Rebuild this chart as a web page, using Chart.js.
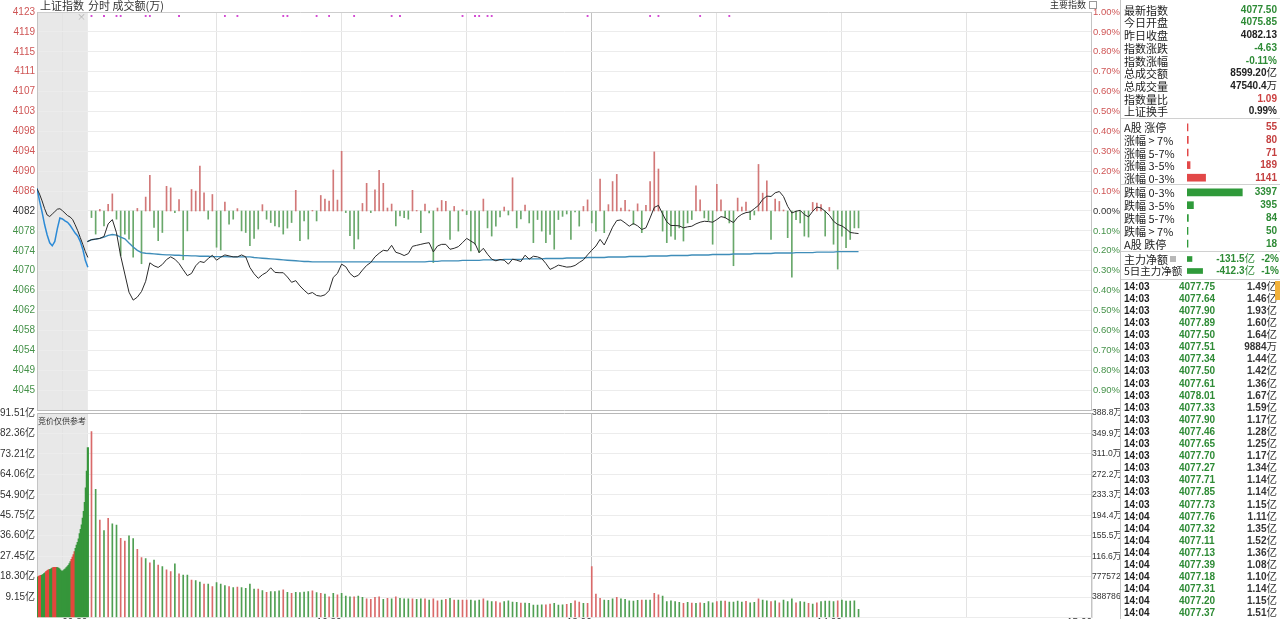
<!DOCTYPE html>
<html>
<head>
<meta charset="utf-8">
<script src="https://cdn.jsdelivr.net/npm/chart.js@4/dist/chart.umd.min.js"></script>
<style>
  html, body { margin:0; padding:0; background:#fff; }
  body { width:1280px; height:619px; overflow:hidden; position:relative; font-family:"Noto Sans CJK SC","Liberation Sans",sans-serif; }
  canvas { position:absolute; }
  .t { position:absolute; white-space:nowrap; height:14px; line-height:14px; }
  .n { font-family:"Liberation Sans",Arial,sans-serif; font-weight:bold; font-size:10px; }
  .u { font-family:"Noto Sans CJK SC",sans-serif; font-weight:normal; font-size:10.5px; line-height:10px; }
</style>
</head>
<body>
<canvas id="top" width="1120" height="414" style="left:0;top:0"></canvas>
<canvas id="bot" width="1120" height="240" style="left:0;top:403px"></canvas>
<script>
// ---------------- data ----------------
const PREV_CLOSE = 4082.13;
const VOL_MAX = 91.51;

// minute price line, 09:30 .. 14:05 (index 0 = 09:30)
const priceLine = [
4075.85,4076.24,4076.37,4076.51,4076.91,4079.49,4080.37,4077.66,4072.92,4069.20,
4065.47,4063.85,4064.46,4065.61,4067.71,4071.50,4070.89,4070.55,4071.16,4072.17,
4072.72,4072.24,4071.36,4070.08,4068.86,4069.33,4070.89,4071.77,4071.57,4072.38,
4073.05,4072.04,4072.65,4073.12,4072.92,4072.72,4072.72,4073.12,4072.72,4070.55,
4069.26,4068.32,4069.06,4069.54,4070.48,4069.54,4069.47,4069.47,4068.59,4067.50,
4067.84,4066.76,4065.88,4065.13,4065.40,4064.80,4064.66,4064.93,4065.81,4068.52,
4069.33,4071.23,4070.69,4069.33,4068.59,4068.93,4070.01,4070.96,4071.57,4072.72,
4073.46,4074.07,4073.93,4075.09,4073.66,4073.39,4072.99,4073.39,4074.88,4075.09,
4075.29,4075.49,4075.63,4073.74,4074.95,4075.29,4075.29,4074.28,4074.48,4074.82,
4075.63,4076.51,4075.97,4075.43,4073.60,4074.48,4073.26,4072.25,4071.91,4072.18,
4072.04,4071.23,4072.25,4072.04,4071.77,4073.06,4072.25,4072.85,4072.72,4072.38,
4071.37,4070.15,4070.55,4071.03,4070.82,4070.62,4070.69,4070.96,4071.57,4072.11,
4073.13,4074.07,4074.95,4076.31,4075.16,4076.92,4078.81,4080.17,4080.30,4079.69,
4079.01,4079.56,4079.08,4078.34,4078.68,4080.71,4082.87,4083.28,4081.52,4079.90,
4079.15,4079.15,4079.08,4078.68,4078.88,4079.01,4079.49,4079.83,4080.03,4079.96,
4079.83,4080.37,4080.98,4080.78,4080.24,4079.76,4080.85,4081.46,4081.80,4081.93,
4082.61,4083.28,4084.50,4085.18,4085.11,4085.86,4086.13,4085.11,4083.08,4081.73,
4082.07,4082.27,4081.39,4080.92,4082.07,4082.95,4082.74,4082.07,4081.25,4080.03,
4079.36,4079.08,4078.48,4077.73,4077.60,4077.50];

// average price line
const avgLine = [
4075.85,4076.24,4076.37,4076.51,4076.78,4077.12,4077.32,4077.19,4076.78,4076.44,
4075.56,4074.75,4074.07,4073.60,4073.46,4073.40,4073.33,4073.26,4073.19,4073.12,4073.12,
4073.05,4073.05,4072.98,4072.98,4072.92,4072.92,4072.85,4072.85,4072.85,4072.78,
4072.78,4072.78,4072.78,4072.72,4072.72,4072.72,4072.72,4072.72,4072.72,
4072.58,4072.52,4072.45,4072.38,4072.31,4072.25,4072.18,4072.11,4072.04,4071.97,
4071.91,4071.84,4071.77,4071.77,4071.70,4071.70,
4071.70,4071.70,4071.70,4071.70,4071.70,4071.70,4071.70,4071.70,4071.70,4071.70,
4071.70,4071.70,4071.70,4071.70,4071.70,4071.70,4071.70,4071.70,4071.70,4071.70,
4071.70,4071.70,4071.70,4071.70,4071.70,4071.70,
4071.8,4071.8,4071.8,4071.9,4071.9,4071.9,4071.9,4071.9,
4072.0,4072.0,4072.0,4072.0,4072.0,4072.1,4072.1,4072.1,4072.1,4072.1,
4072.2,4072.2,4072.2,4072.2,4072.2,4072.3,4072.3,4072.3,4072.3,4072.3,
4072.4,4072.4,4072.4,4072.4,4072.4,4072.5,4072.5,4072.5,4072.5,4072.5,
4072.6,4072.6,4072.6,4072.6,4072.6,4072.7,4072.7,4072.7,4072.7,4072.7,
4072.8,4072.8,4072.8,4072.8,4072.8,4072.9,4072.9,4072.9,4072.9,4072.9,
4073.0,4073.0,4073.0,4073.0,4073.0,4073.1,4073.1,4073.1,4073.1,4073.1,
4073.2,4073.2,4073.2,4073.2,4073.2,4073.3,4073.3,4073.3,4073.3,4073.3,
4073.4,4073.4,4073.4,4073.4,4073.4,4073.5,4073.5,4073.5,4073.5,4073.5,
4073.6,4073.6,4073.6,4073.6,4073.6,4073.7,4073.7,4073.7,4073.7,4073.7,
4073.8,4073.8,4073.8,4073.8,4073.8,4073.8];

// red/green strength bars, minutes 09:31 .. 14:05
const miniBars = [
-3.3,-11.6,0.8,-7.5,3.3,8.6,-4.1,-22.4,-11.6,-14.1,
-23.2,1.3,-26.5,7.0,17.9,-8.3,-14.9,-10.8,12.4,11.6,
-0.8,5.8,-24.5,-10.0,10.8,10.0,22.6,9.1,-4.1,8.3,
-18.2,-19.6,4.5,-6.6,-4.1,1.2,-10.0,-10.8,-17.4,-13.8,
-9.1,3.2,-4.1,-5.8,-7.5,-8.0,-11.6,-8.6,-5.8,10.4,
-14.9,-5.0,-14.1,0.3,-5.0,7.8,6.0,5.0,20.6,5.5,
30.0,-0.8,-12.4,-19.1,-14.1,3.8,13.9,-0.8,10.6,20.4,
13.9,1.5,3.5,-7.5,-2.5,-3.3,-4.1,10.4,0.3,-10.9,
3.5,-1.0,-25.9,1.5,5.3,4.8,-14.3,2.3,-10.1,0.7,
-1.8,-20.1,-16.7,-20.9,6.0,-8.5,-12.6,-7.6,-3.0,2.0,
-2.0,16.7,-8.5,-4.0,3.0,-6.0,-15.9,-4.3,-10.1,-15.9,
-11.8,-19.2,-4.3,-2.7,-1.5,-14.3,-0.5,-7.6,2.3,5.6,
-6.0,-10.1,16.1,-10.9,3.2,14.8,18.4,1.5,5.3,0.5,
-6.8,3.6,-10.9,2.8,14.8,29.7,21.1,-10.1,-15.9,-12.6,
-14.3,-8.5,-15.1,-6.0,-4.3,12.6,5.6,-3.5,-4.8,-16.7,
13.4,5.6,-3.5,-6.0,-27.5,6.5,2.0,4.5,-4.3,-2.0,
23.4,9.0,15.1,-14.3,6.0,4.8,0.5,-13.4,-33.3,-4.3,
-6.0,-12.6,-13.1,4.3,4.0,3.2,-12.6,1.8,-16.7,-29.2,
-12.6,-18.4,-14.3,-8.5,-8.5];

// minute turnover (亿), minutes 09:31 .. 14:05
const volume = [
83.2,57.4,43.6,38.9,44.4,41.9,41.4,35.4,34.2,36.5,
35.3,30.5,26.8,26.4,24.5,25.7,23.5,22.8,21.3,20.6,
24.0,19.5,19.0,19.0,16.8,16.5,15.8,15.0,15.0,13.8,
15.6,15.0,14.3,13.8,13.4,13.6,13.4,13.1,15.0,12.7,
12.7,12.1,11.3,11.6,11.6,11.9,12.4,11.3,10.8,11.3,
11.1,11.4,11.6,11.9,11.1,10.8,10.5,9.3,10.8,10.1,
10.8,9.6,9.3,9.3,9.6,9.0,8.3,8.1,9.0,9.3,
8.1,8.6,8.3,9.3,8.6,8.4,8.4,8.3,8.1,8.3,
8.4,7.8,8.3,7.5,7.8,8.1,8.6,7.8,7.8,7.8,
7.8,7.8,7.5,7.8,8.3,7.5,7.1,7.1,6.6,7.1,
7.5,6.9,6.8,6.5,6.5,6.3,5.6,5.6,5.7,5.7,
6.0,6.3,5.6,5.7,5.9,6.3,7.5,6.9,6.3,6.3,
22.8,10.5,8.6,7.8,7.7,8.3,9.0,8.4,8.1,7.5,
7.4,7.7,7.8,7.8,7.8,10.8,10.1,9.6,7.1,7.5,
7.1,6.8,6.3,6.8,6.5,6.3,6.6,6.3,7.1,6.6,
7.1,7.4,7.4,6.9,6.9,7.4,6.9,7.2,6.6,6.8,
8.3,7.8,7.5,7.1,7.5,6.6,7.8,7.1,8.3,6.6,
7.1,6.9,6.3,6.0,6.6,7.1,7.4,7.4,7.1,7.5,
7.8,7.4,7.4,7.5,3.7];
const volDir = ('rgrgrggrrg'+'grrgrgrgrr'+'grggrggrgr'+'gggrgrgggg'+'rgrgggrgrg'+
  'gggrgrgrgr'+'gggrggrrrr'+'grgrgggrgg'+'rgrrgrgrgr'+'rgggrggrrg'+'gggrgggggr'+
  'rgggrgrrgr'+'rrrgggrggg'+'ggrggrrggg'+'ggrgrgrggg'+'rgrggggrgg'+'rggrgrgggr'+
  'ggrgrggggr'+'ggggg').split('');

// call auction 09:15 .. 09:25 (30 s steps)
const auctionPrice = [4086.7,4085.6,4084.2,4082.6,4081.3,4081.0,4081.5,4082.0,4082.5,4082.6,4082.2,
  4081.7,4081.2,4080.9,4080.4,4079.3,4078.1,4076.7,4075.3,4073.8,4072.6];
const auctionAvg = [4086.8,4084.2,4081.9,4079.3,4077.2,4075.6,4075.0,4075.9,4078.5,4080.7,4080.5,
  4080.1,4079.8,4079.2,4078.4,4077.6,4077.0,4075.9,4074.3,4072.0,4070.6];
// call auction turnover (亿), 12 s steps
const auctionVol = [17.5,18.2,18.5,18.7,18.9,19.0,19.2,19.6,20.0,20.5,20.9,21.2,21.4,21.5,21.8,22.1,22.3,
  22.5,22.5,22.4,22.3,22.1,21.8,21.2,20.8,20.7,21.0,21.4,21.8,22.3,22.8,23.4,24.1,25.0,26.0,27.0,28.2,
  29.5,31.0,32.4,33.6,35.2,37.5,39.5,41.5,44.5,47.5,51.5,58.0,65.5,76.0];
const auctionVolDir = 'ggrrrggggrrrrgggrrrrggggggggggggggrrrrggggggggggggg'.split('');

const signalIdx = [1,4,7,8,14,15,22,33,36,47,48,55,58,64,73,75,90,93,94,96,97,120,135,137,147,154];

const priceTickLabels = ['4123','4119','4115','4111','4107','4103','4098','4094','4090','4086',
  '4082','4078','4074','4070','4066','4062','4058','4054','4049','4045'];
const pctTickLabels = ['1.00%','0.90%','0.80%','0.70%','0.60%','0.50%','0.40%','0.30%','0.20%','0.10%',
  '0.00%','0.10%','0.20%','0.30%','0.40%','0.50%','0.60%','0.70%','0.80%','0.90%'];
const volTickLabels = ['91.51亿','82.36亿','73.21亿','64.06亿','54.90亿','45.75亿','36.60亿','27.45亿','18.30亿','9.15亿'];
const volTickLabelsR = ['388.8万','349.9万','311.0万','272.2万','233.3万','194.4万','155.5万','116.6万','777572','388786'];
const timeTickIdx = [0, 61, 121, 181, 241];
const timeTickLabels = ['09:30','10:30','13:00','14:00','15:00'];

// right panel
const summaryLabels = ['最新指数','今日开盘','昨日收盘','指数涨跌','指数涨幅','总成交额','总成交量','指数量比','上证换手'];
const summaryValues = ['4077.50','4075.85','4082.13','-4.63','-0.11%','8599.20亿','47540.4万','1.09','0.99%'];
const summaryTone   = ['g','g','d','g','g','d','d','r','d'];
const breadthLabels = ['A股 涨停','涨幅 > 7%','涨幅 5-7%','涨幅 3-5%','涨幅 0-3%','跌幅 0-3%','跌幅 3-5%','跌幅 5-7%','跌幅 > 7%','A股 跌停'];
const breadthCounts = [55,80,71,189,1141,3397,395,84,50,18];
const flowLabels = ['主力净额','5日主力净额'];
const flowAmounts = ['-131.5亿','-412.3亿'];
const flowPct = ['-2%','-1%'];
const flowValues = [131.5, 412.3];
const tickTimes = ['14:03','14:03','14:03','14:03','14:03','14:03','14:03','14:03','14:03','14:03','14:03','14:03','14:03','14:03',
  '14:03','14:03','14:03','14:03','14:03','14:04','14:04','14:04','14:04','14:04','14:04','14:04','14:04','14:04'];
const tickPrices = ['4077.75','4077.64','4077.90','4077.89','4077.50','4077.51','4077.34','4077.50','4077.61','4078.01',
  '4077.33','4077.90','4077.46','4077.65','4077.70','4077.27','4077.71','4077.85','4077.73','4077.76','4077.32','4077.11',
  '4077.13','4077.39','4077.18','4077.31','4077.20','4077.37'];
const tickAmounts = ['1.49亿','1.46亿','1.93亿','1.60亿','1.64亿','9884万','1.44亿','1.42亿','1.36亿','1.67亿','1.59亿','1.17亿',
  '1.28亿','1.25亿','1.17亿','1.34亿','1.14亿','1.14亿','1.15亿','1.11亿','1.35亿','1.52亿','1.36亿','1.08亿','1.10亿','1.14亿','1.15亿','1.51亿'];

// ---------------- chart ----------------
const X_MIN = -12.07, X_MAX = 241;
const AUC_X0 = -12.07, AUC_X1 = 0.13;
const aucX = t => AUC_X0 + (AUC_X1 - AUC_X0) * t / 10;   // t = minutes after 09:15
const RED = '#cf5656', GREEN = '#46924a', DARK = '#333';

Chart.defaults.font.family = '"Liberation Sans","Noto Sans CJK SC",sans-serif';
Chart.defaults.font.size = 10;
Chart.defaults.animation = false;

const gridIdx = [aucX(5), 31, 61, 91, 121, 151, 181, 211];
const xGridColor = c => (c.tick && c.tick.value === 121) ? '#c2c2c2' : '#e3e3e3';
const noPad = s => { s.paddingTop = 0; s.paddingBottom = 0; s.paddingLeft = 0; s.paddingRight = 0; };

const bandPlugin = {
  id: 'band',
  beforeDraw(chart) {
    const { ctx, chartArea: a, scales: { x } } = chart;
    const x1 = x.getPixelForValue(AUC_X1);
    ctx.save();
    ctx.fillStyle = '#e8e8e8';
    ctx.fillRect(a.left, a.top, x1 - a.left, a.bottom - a.top);
    ctx.restore();
  },
  beforeDatasetsDraw(chart) {
    const { ctx, chartArea: a } = chart;
    ctx.save();
    ctx.strokeStyle = '#c4c4c4';
    ctx.lineWidth = 1;
    ctx.beginPath();
    ctx.moveTo(Math.round(a.left) + 0.5, a.top); ctx.lineTo(Math.round(a.left) + 0.5, a.bottom);
    ctx.moveTo(Math.round(a.right) - 0.5, a.top); ctx.lineTo(Math.round(a.right) - 0.5, a.bottom);
    ctx.stroke();
    ctx.restore();
  }
};

const pts = (arr, off = 0) => arr.map((v, i) => ({ x: i + off, y: v }));

new Chart(document.getElementById('top'), {
  type: 'line',
  data: { datasets: [
    { data: pts(priceLine), yAxisID: 'y', borderColor: '#2a2a2a', borderWidth: 1, pointRadius: 0, order: 0 },
    { data: auctionPrice.map((v, k) => ({ x: aucX(k * 0.5), y: v })), yAxisID: 'y', borderColor: '#2a2a2a', borderWidth: 1, pointRadius: 0, order: 0 },
    { data: pts(avgLine), yAxisID: 'y', borderColor: '#3f8db9', borderWidth: 1.4, pointRadius: 0, order: 1 },
    { data: auctionAvg.map((v, k) => ({ x: aucX(k * 0.5), y: v })), yAxisID: 'y', borderColor: '#2b8ad6', borderWidth: 1.5, pointRadius: 0, order: 1 },
    { type: 'bar', data: pts(miniBars, 1), yAxisID: 'yb', barThickness: 1, order: 2,
      backgroundColor: c => (c.raw && c.raw.y >= 0) ? '#d27878' : '#69a86b' },
    { type: 'scatter', data: signalIdx.map(i => ({ x: i, y: 0.98 })), yAxisID: 'yp', pointStyle: 'rect',
      pointRadius: 1.3, pointBackgroundColor: '#d03cd0', pointBorderWidth: 0, order: 0 }
  ]},
  options: {
    responsive: false, events: [],
    layout: { padding: { top: 12, bottom: 1, left: 0, right: 0 } },
    plugins: { legend: { display: false }, tooltip: { enabled: false } },
    scales: {
      x: { type: 'linear', min: X_MIN, max: X_MAX, offset: false,
        afterBuildTicks: s => { s.ticks = gridIdx.map(v => ({ value: v })); },
        ticks: { display: false }, grid: { color: xGridColor, drawTicks: false, offset: false }, border: { display: false },
        afterFit: s => { s.height = 0; noPad(s); } },
      y: { position: 'left', min: PREV_CLOSE * 0.99, max: PREV_CLOSE * 1.01,
        afterBuildTicks: s => { const t = []; for (let k = -10; k <= 10; k++) t.push({ value: PREV_CLOSE * (1 + k / 1000) }); s.ticks = t; },
        ticks: { autoSkip: false, padding: 2, callback: (v, i) => i === 0 ? '' : priceTickLabels[20 - i],
          color: c => c.index > 10 ? RED : (c.index === 10 ? DARK : GREEN) },
        grid: { drawTicks: false, color: c => c.index === 0 ? '#bcbcbc' : (c.index === 20 ? '#cdcdcd' : '#ececec') },
        border: { display: false },
        afterFit: s => { s.width = 37; noPad(s); } },
      yp: { position: 'right', min: -1, max: 1,
        afterBuildTicks: s => { const t = []; for (let k = -10; k <= 10; k++) t.push({ value: k / 10 }); s.ticks = t; },
        ticks: { autoSkip: false, padding: 1, font: { size: 9.5 }, callback: (v, i) => i === 0 ? '' : pctTickLabels[20 - i],
          color: c => c.index > 10 ? RED : (c.index === 10 ? DARK : GREEN) },
        grid: { display: false, drawTicks: false }, border: { display: false },
        afterFit: s => { s.width = 28; noPad(s); } },
      yb: { display: false, min: -100, max: 100 }
    }
  },
  plugins: [bandPlugin]
});

new Chart(document.getElementById('bot'), {
  type: 'bar',
  data: { datasets: [
    { data: pts(volume, 1), barThickness: 1, grouped: false,
      backgroundColor: c => volDir[c.dataIndex] === 'r' ? '#d96a6a' : '#4f9f52' },
    { data: auctionVol.map((v, k) => ({ x: aucX(k * 0.2), y: v })), barThickness: 1.5, grouped: false,
      backgroundColor: c => auctionVolDir[c.dataIndex] === 'r' ? '#e4473d' : '#36963b' }
  ]},
  options: {
    responsive: false, events: [],
    layout: { padding: { top: 10, bottom: 0, left: 0, right: 0 } },
    plugins: { legend: { display: false }, tooltip: { enabled: false } },
    scales: {
      x: { type: 'linear', min: X_MIN, max: X_MAX, offset: false,
        afterBuildTicks: s => { s.ticks = [aucX(5), 0, 31, 61, 91, 121, 151, 181, 211, 241].map(v => ({ value: v })); },
        ticks: { autoSkip: false, maxRotation: 0, align: 'end', padding: 0, color: DARK,
          callback: v => { const j = timeTickIdx.indexOf(v); return j >= 0 ? timeTickLabels[j] : ''; } },
        grid: { color: xGridColor, drawTicks: false, offset: false }, border: { display: false },
        afterFit: s => { s.height = 25.5; noPad(s); } },
      y: { position: 'left', min: 0, max: VOL_MAX,
        afterBuildTicks: s => { const t = []; for (let k = 0; k <= 10; k++) t.push({ value: VOL_MAX * k / 10 }); s.ticks = t; },
        ticks: { autoSkip: false, padding: 2, color: DARK, callback: (v, i) => i === 0 ? '' : volTickLabels[10 - i] },
        grid: { drawTicks: false, color: c => c.index === 10 ? '#b8b8b8' : '#ececec' }, border: { display: false },
        afterFit: s => { s.width = 37; noPad(s); } },
      y2: { position: 'right', min: 0, max: VOL_MAX,
        afterBuildTicks: s => { const t = []; for (let k = 0; k <= 10; k++) t.push({ value: VOL_MAX * k / 10 }); s.ticks = t; },
        ticks: { autoSkip: false, padding: 0, color: DARK, font: { size: 8.6 }, callback: (v, i) => i === 0 ? '' : volTickLabelsR[10 - i] },
        grid: { display: false, drawTicks: false }, border: { display: false },
        afterFit: s => { s.width = 28; noPad(s); } }
    }
  },
  plugins: [bandPlugin]
});

// ---------------- texts & panel ----------------
function put(x, cy, html, o = {}) {
  const d = document.createElement('div');
  d.className = 't' + (o.cls ? ' ' + o.cls : '');
  d.style.top = (cy - 7) + 'px';
  if (o.size) d.style.fontSize = o.size + 'px';
  d.style.color = o.color || '#222';
  if (o.right) d.style.right = (1280 - x) + 'px'; else d.style.left = x + 'px';
  d.innerHTML = html;
  document.body.appendChild(d);
  return d;
}
function box(l, t, w, h, css) {
  const d = document.createElement('div');
  d.style.cssText = `position:absolute;left:${l}px;top:${t}px;width:${w}px;height:${h}px;` + css;
  document.body.appendChild(d);
  return d;
}
const unit = s => s.replace(/([亿万])$/, '<span class="u">$1</span>');
const toneColor = k => k === 'g' ? '#2e8b36' : (k === 'r' ? '#cc4040' : '#222');

// header
put(40, 5, '上证指数', { size: 11, color: '#333' });
put(88, 5, '分时 成交额(万)', { size: 11, color: '#333' });
put(1086, 5, '主要指数', { size: 9, color: '#333', right: true });
box(1089, 1, 6, 6, 'border:1px solid #999;');
put(77, 17, '×', { size: 9, color: '#b0b0b0' });
put(38, 421, '竞价仅供参考', { size: 8, color: '#333' });

// panel frame
box(1120, 0, 1, 619, 'background:#c6c6c6;');
[118, 184, 251, 279].forEach(y => box(1121, y, 159, 1, 'background:#d0d0d0;'));

summaryLabels.forEach((s, i) => {
  const cy = 9.7 + 12.7 * i;
  put(1124, cy, s, { size: 11 });
  put(1277, cy, unit(summaryValues[i]), { right: true, cls: 'n', color: toneColor(summaryTone[i]) });
});
breadthLabels.forEach((s, i) => {
  const cy = i < 5 ? 127.3 + 12.6 * i : 192.4 + 12.8 * (i - 5);
  put(1124, cy, s, { size: 11 });
  put(1277, cy, String(breadthCounts[i]), { right: true, cls: 'n', color: i < 5 ? '#c44040' : '#2e8b36' });
});
flowLabels.forEach((s, i) => {
  const cy = 259 + 12 * i;
  put(1124, cy, s, { size: i ? 10.5 : 11 });
  put(1255, cy, unit(flowAmounts[i]), { right: true, cls: 'n', color: '#2e8b36' });
  put(1279, cy, flowPct[i], { right: true, cls: 'n', color: '#2e8b36' });
});
box(1170, 256, 6, 6, 'background:#b8b8b8;');
tickTimes.forEach((s, i) => {
  const cy = 286.7 + 12.1 * i;
  put(1124, cy, s, { cls: 'n', color: '#222' });
  put(1179, cy, tickPrices[i], { cls: 'n', color: '#2e8b36' });
  put(1277, cy, unit(tickAmounts[i]), { right: true, cls: 'n', color: '#333' });
});
box(1275, 281, 5, 19, 'background:#f2b13a;');

// small horizontal bars in the panel
function miniHBar(left, top, w, h, labels, values, colors, maxV, thick) {
  const c = document.createElement('canvas');
  c.width = w; c.height = h; c.style.left = left + 'px'; c.style.top = top + 'px';
  document.body.appendChild(c);
  new Chart(c, {
    type: 'bar',
    data: { labels, datasets: [{ data: values, backgroundColor: colors, barThickness: thick, minBarLength: 1 }] },
    options: { indexAxis: 'y', responsive: false, events: [], layout: { padding: 0 },
      plugins: { legend: { display: false }, tooltip: { enabled: false } },
      scales: { x: { display: false, min: 0, max: maxV }, y: { display: false } } }
  });
}
miniHBar(1187, 121, 70, 63, breadthLabels.slice(0, 5), breadthCounts.slice(0, 5), '#e24848', 4300, 7);
miniHBar(1187, 186, 70, 64, breadthLabels.slice(5), breadthCounts.slice(5), '#2f9a3a', 4300, 7);
miniHBar(1187, 253, 70, 24, flowLabels, flowValues, '#2f9a3a', 1850, 5);
</script>
</body>
</html>
